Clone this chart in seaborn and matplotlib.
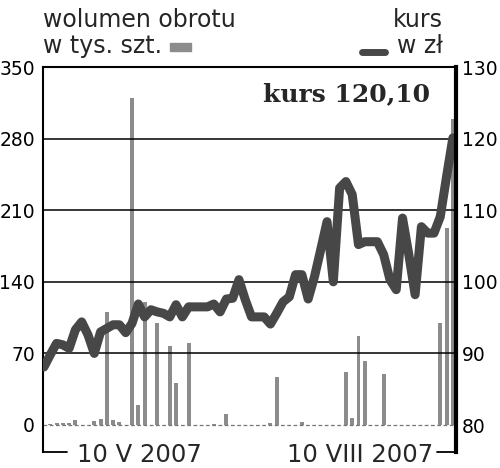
import numpy as np
import pandas as pd
import matplotlib
matplotlib.use('Agg')
import matplotlib.pyplot as plt
from matplotlib.patches import Rectangle
from matplotlib.lines import Line2D
import seaborn as sns

# kolejne sesje (maj - sierpien 2007)
sesja = list(range(66))

# wolumen obrotu w tys. szt.
wolumen = [0, 0.5, 1.5, 2, 1.5, 5, 0, 0, 4, 5.5,
           110, 5, 3, 0, 320, 20, 120, 0, 100, 0,
           77, 41, 0, 80, 0, 0, 0, 1, 0, 10.5,
           0, 0, 0, 0, 0, 0, 2, 47, 0, 0,
           0, 3, 0, 0, 0, 0, 0, 0, 52, 7,
           87, 63, 0, 0, 50, 0, 0, 0, 0, 0,
           0, 0, 0, 100, 193, 299]

# kurs w zl
kurs = [88.1, 89.8, 91.4, 91.2, 90.7, 93.3, 94.4, 92.6, 90.0, 93.0,
        93.5, 94.0, 94.0, 92.9, 94.2, 96.9, 95.1, 96.1, 95.8, 95.6,
        95.1, 96.8, 95.1, 96.5, 96.5, 96.5, 96.5, 96.9, 95.8, 97.6,
        97.7, 100.3, 97.5, 95.1, 95.1, 95.1, 94.1, 95.6, 97.2, 97.9,
        101.0, 101.0, 97.6, 100.7, 104.5, 108.4, 100.0, 113.1, 114.0, 112.2,
        105.2, 105.6, 105.6, 105.6, 103.8, 100.3, 98.9, 108.9, 103.8, 98.2,
        107.7, 106.8, 106.8, 109.1, 114.7, 120.1]

vol_ticks = [0, 70, 140, 210, 280, 350]
kurs_ticks = [80, 90, 100, 110, 120, 130]
daty = ['10 V 2007', '10 VIII 2007']

BAR_COL = '#8c8c8c'
LINE_COL = '#474747'
XLIM = (-0.15, 65.5)

sns.set_theme(style='white')
plt.rcParams['font.family'] = ['DejaVu Sans']

fig = plt.figure(figsize=(5, 4.68), dpi=100)
ax = fig.add_axes([0.086, 0.0342, 0.826, 0.8226])

df = pd.DataFrame({'sesja': sesja, 'wolumen': wolumen})
sns.barplot(data=df, x='sesja', y='wolumen', ax=ax, color=BAR_COL,
            saturation=1, width=0.63, errorbar=None, linewidth=0)

ax.set_xlim(*XLIM)
ax.set_ylim(-26.4, 350)
ax.set_xticks([])
ax.set_xlabel('')
ax.set_ylabel('')
ax.set_yticks(vol_ticks)
ax.tick_params(axis='y', length=0, pad=5.8, labelsize=13.5, colors='black')

# linie siatki
for v in vol_ticks[1:-1]:
    ax.axhline(v, color='black', lw=1.1)
ax.axhline(0, color='#777777', lw=0.9, ls=(0, (3, 2)))

for s in ['right', 'bottom']:
    ax.spines[s].set_visible(False)
for s in ['left', 'top']:
    ax.spines[s].set_color('black')
    ax.spines[s].set_linewidth(1.5)

# krotkie kreski przy datach
ax.plot([0, 0.058], [0, 0], transform=ax.transAxes, color='black', lw=1.3, clip_on=False)
ax.plot([0.954, 1], [0, 0], transform=ax.transAxes, color='black', lw=1.3, clip_on=False)
ax.text(0.082, -0.0247, daty[0], transform=ax.transAxes, ha='left', va='baseline', fontsize=17.5)
ax.text(0.944, -0.0247, daty[1], transform=ax.transAxes, ha='right', va='baseline', fontsize=17.5)

# kurs na prawej osi
ax2 = ax.twinx()
sns.lineplot(x=sesja, y=kurs, ax=ax2, color=LINE_COL, lw=6.5)
for ln in ax2.get_lines():
    ln.set_solid_joinstyle('round')
    ln.set_solid_capstyle('round')
ax2.set_xlim(*XLIM)
ax2.set_ylim(76.23, 130)
ax2.set_yticks(kurs_ticks)
ax2.set_ylabel('')
ax2.tick_params(axis='y', length=0, pad=4.5, labelsize=13.5, colors='black')
for s in ['left', 'top', 'bottom']:
    ax2.spines[s].set_visible(False)
ax2.spines['right'].set_color('black')
ax2.spines['right'].set_linewidth(3)

ax2.text(0.937, 0.912, 'kurs 120,10', transform=ax2.transAxes, ha='right', va='baseline',
         fontsize=18, fontweight='bold', family='DejaVu Serif')

# legenda u gory
fig.text(0.086, 1 - 27 / 468, 'wolumen obrotu', ha='left', va='baseline', fontsize=17)
fig.text(0.086, 1 - 53 / 468, 'w tys. szt.', ha='left', va='baseline', fontsize=17)
fig.patches.append(Rectangle((0.34, 1 - 51 / 468), 0.042, 8 / 468, transform=fig.transFigure,
                             color=BAR_COL, figure=fig))
fig.text(0.886, 1 - 27 / 468, 'kurs', ha='right', va='baseline', fontsize=17)
fig.text(0.886, 1 - 53 / 468, 'w zł', ha='right', va='baseline', fontsize=17)
fig.lines.append(Line2D([0.724, 0.770], [1 - 52 / 468] * 2, transform=fig.transFigure,
                        color=LINE_COL, lw=5, solid_capstyle='round', figure=fig))

fig.savefig('out.png', dpi=100)
